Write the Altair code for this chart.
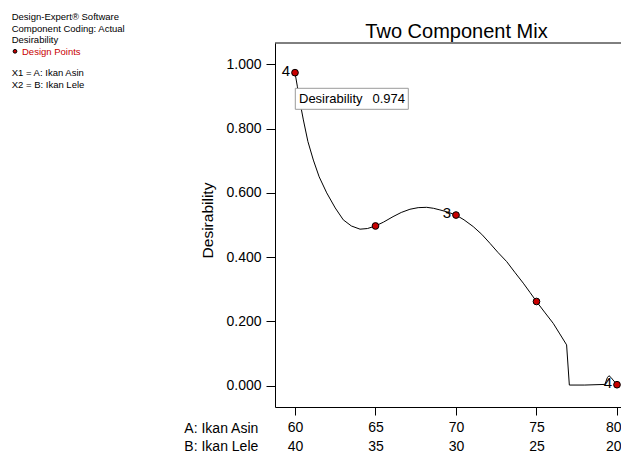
import altair as alt
import pandas as pd

# ---- data ----
curve_x = [60.0, 60.15, 60.3, 60.52, 60.8, 61.14, 61.5, 61.97, 62.5, 63.0, 63.5, 64.04,
           64.5, 65.0, 65.5, 66.09, 66.6, 67.14, 67.65, 68.18, 68.6, 69.0, 69.5, 70.0,
           70.5, 71.07, 71.6, 72.11, 72.6, 73.15, 73.65, 74.18, 74.6, 75.0, 75.5, 76.04,
           76.45, 76.87, 77.04, 78.0, 79.25, 79.4, 79.5, 79.62, 79.75, 80.0]
curve_y = [0.974, 0.93, 0.885, 0.827, 0.76, 0.702, 0.65, 0.600, 0.553, 0.516, 0.497, 0.487,
           0.489, 0.497, 0.509, 0.526, 0.539, 0.549, 0.554, 0.555, 0.552, 0.547, 0.540, 0.531,
           0.516, 0.495, 0.471, 0.443, 0.415, 0.386, 0.353, 0.319, 0.290, 0.262, 0.229, 0.194,
           0.161, 0.127, 0.002, 0.002, 0.004, 0.025, 0.031, 0.026, 0.018, 0.003]

design_a = [60, 65, 70, 75, 80]
design_y = [0.974, 0.497, 0.531, 0.262, 0.003]
design_rep = ["4", "", "3", "", "4"]

x_ticks = [60, 65, 70, 75, 80]
y_ticks = [0.0, 0.2, 0.4, 0.6, 0.8, 1.0]

W, H = 346, 364
FONT = "Liberation Sans"
RED = "#c80000"

curve_df = pd.DataFrame({"a": curve_x, "d": curve_y})
pts_df = pd.DataFrame({"a": design_a, "d": design_y, "rep": design_rep})
one = pd.DataFrame({"k": [0]})

xscale = alt.Scale(domain=[58.758, 58.758 + W / 16.1], nice=False, zero=False)
yscale = alt.Scale(domain=[-0.0663, 1.0663], nice=False, zero=False)

xaxis = alt.Axis(values=x_ticks, labelExpr="[datum.value, 100 - datum.value]",
                 labelLineHeight=19, labelFontSize=14, labelFont=FONT, labelColor="black",
                 labelAlign={"expr": "datum.value == 80 ? 'right' : 'center'"},
                 labelOffset={"expr": "datum.value == 80 ? 4 : 0"},
                 tickSize=8, tickColor="black", domainColor="black", labelPadding=5,
                 grid=False, title=None, labelFlush=False)
yaxis = alt.Axis(values=y_ticks, format=".3f", labelFontSize=14, labelFont=FONT,
                 labelColor="black", tickSize=9, tickColor="black", domainColor="black",
                 labelPadding=5, grid=False, title="Desirability", titleFont=FONT,
                 titleFontSize=15.5, titleFontWeight="normal", titleColor="black",
                 titleX=-68, titleY=177, titleAlign="center", titleBaseline="middle",
                 titleAngle=-90)

curve = alt.Chart(curve_df).mark_line(color="black", strokeWidth=1,
                                      interpolate="linear").encode(
    x=alt.X("a:Q", scale=xscale, axis=xaxis),
    y=alt.Y("d:Q", scale=yscale, axis=yaxis),
)

box = alt.Chart(one).mark_rect(fill="white", stroke="#9a9a9a", strokeWidth=1).encode(
    x=alt.value(20.3), x2=alt.value(133.3), y=alt.value(45.3), y2=alt.value(66.3))
box_t1 = alt.Chart(one).mark_text(text="Desirability", font=FONT, fontSize=13,
                                  align="left", baseline="middle", color="black").encode(
    x=alt.value(24), y=alt.value(56))
box_t2 = alt.Chart(one).mark_text(text="0.974", font=FONT, fontSize=13,
                                  align="right", baseline="middle", color="black").encode(
    x=alt.value(130), y=alt.value(56))

points = alt.Chart(pts_df).mark_point(filled=True, fill=RED, stroke="black",
                                      strokeWidth=1, size=45, opacity=1).encode(
    x=alt.X("a:Q", scale=xscale), y=alt.Y("d:Q", scale=yscale))
reps = alt.Chart(pts_df).mark_text(font=FONT, fontSize=15, align="right",
                                   baseline="middle", dx=-5, dy=-2, color="black").encode(
    x=alt.X("a:Q", scale=xscale), y=alt.Y("d:Q", scale=yscale), text="rep:N")

top_rule = alt.Chart(one).mark_rule(color="black", strokeWidth=1).encode(
    x=alt.value(0), x2=alt.value(W), y=alt.value(0))

title = alt.Chart(one).mark_text(text="Two Component Mix", font=FONT, fontSize=20,
                                 align="center", baseline="alphabetic",
                                 color="black").encode(
    x=alt.value(181.5), y=alt.value(-5))

row_a = alt.Chart(one).mark_text(text="A: Ikan Asin", font=FONT, fontSize=14,
                                 align="right", baseline="middle", color="black").encode(
    x=alt.value(-16.7), y=alt.value(386))
row_b = alt.Chart(one).mark_text(text="B: Ikan Lele", font=FONT, fontSize=14,
                                 align="right", baseline="middle", color="black").encode(
    x=alt.value(-16.7), y=alt.value(404))

info1 = alt.Chart(one).mark_text(
    text=["Design-Expert® Software", "Component Coding: Actual", "Desirability"],
    font=FONT, fontSize=9.5, lineHeight=11.5, align="left", baseline="middle",
    color="black").encode(x=alt.value(-263.3), y=alt.value(-25.7))
info_dot = alt.Chart(one).mark_point(filled=True, fill=RED, stroke="black",
                                     strokeWidth=1, size=14, opacity=1).encode(
    x=alt.value(-260), y=alt.value(8.3))
info2 = alt.Chart(one).mark_text(text="Design Points", font=FONT, fontSize=9.5,
                                 align="left", baseline="middle", color=RED).encode(
    x=alt.value(-253), y=alt.value(8.7))
info3 = alt.Chart(one).mark_text(
    text=["X1 = A: Ikan Asin", "X2 = B: Ikan Lele"],
    font=FONT, fontSize=9.5, lineHeight=11.5, align="left", baseline="middle",
    color="black").encode(x=alt.value(-263.3), y=alt.value(30.3))

chart = alt.layer(
    curve, box, box_t1, box_t2, points, reps, top_rule, title, row_a, row_b,
    info1, info_dot, info2, info3
).properties(
    width=W, height=H,
    autosize=alt.AutoSizeParams(type="none"),
    padding={"left": 267, "top": 35, "right": 0, "bottom": 48},
    background="white",
).configure_view(stroke=None)

chart.save("out.html", embed_options={"renderer": "svg", "actions": False})
